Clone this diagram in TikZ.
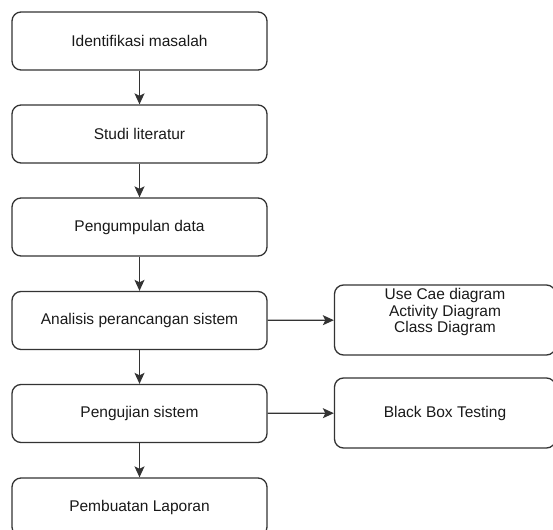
\documentclass[tikz,border=0pt]{standalone}
\usepackage{fontspec}
\setmainfont{Liberation Sans}
\usetikzlibrary{arrows.meta}

\begin{document}
\begin{tikzpicture}[x=1pt,y=-1pt,
 txt/.style={font=\fontsize{15.5}{16.5}\selectfont, text=black!90},
 box/.style={draw=black!80, line width=1.3pt, rounded corners=9pt, minimum width=255pt, minimum height=58pt, txt},
 sidebox/.style={box, minimum width=221pt, minimum height=70pt},
 link/.style={draw=black!80, line width=1.3pt, -{Stealth[length=11pt,width=10pt,inset=2.5pt]}}]
\useasboundingbox (0,0) rectangle (553,529);
\clip (0,0) rectangle (553,529);
% main steps
\foreach \n/\y/\t in {1/41/Identifikasi masalah, 2/134/Studi literatur, 3/227/Pengumpulan data,
 4/320.5/Analisis perancangan sistem, 5/413.5/Pengujian sistem, 6/507/Pembuatan Laporan}
 \node[box] (b\n) at (139.5,\y) {\t};
\foreach \a/\b in {1/2,2/3,3/4,4/5,5/6}
 \draw[link] (b\a) -- (b\b);
% side outputs
\node[sidebox, label={[txt, align=center, yshift=8pt]center:Use Cae diagram\\Activity Diagram\\Class Diagram}] (uml) at (445,320) {};
\node[sidebox] (bbt) at (445,413) {Black Box Testing};
\draw[link] (b4) -- (uml);
\draw[link] (b5) -- (bbt);
\end{tikzpicture}
\end{document}
